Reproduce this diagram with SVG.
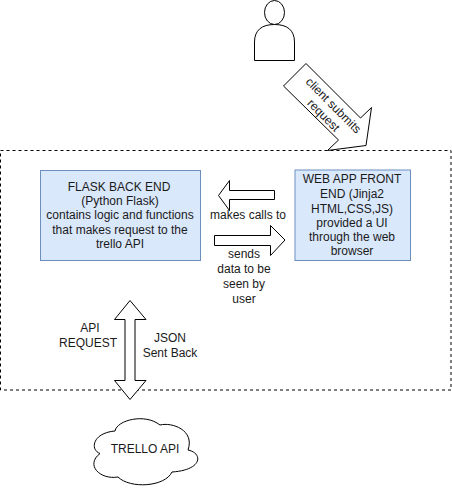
<svg xmlns="http://www.w3.org/2000/svg" width="452" height="491" viewBox="0 0 452 491">
<style>
text{font-family:"Liberation Sans",Arial,sans-serif;font-size:12px;fill:#1a1a1a;text-anchor:middle}
.s{fill:#fff;stroke:#000;stroke-width:1}
.b{fill:#dae8fc;stroke:#6c8ebf;stroke-width:1}
.n{fill:none;stroke:#000;stroke-width:1}
</style>
<rect width="452" height="491" fill="#fff"/>
<g id="boundary"><rect class="n" x="0.5" y="150.5" width="450.5" height="239.5" stroke-dasharray="3 3"/></g>
<g id="connectors">
<path class="s" d="M306 63.500L283.500 86L338.500 140L327.500 150.500L366 145.500L371.500 107.500L360.500 118Z"/>
<text transform="translate(328.500 110.400) rotate(45)" x="0" y="-3">client submits</text>
<text transform="translate(328.500 110.400) rotate(45)" x="0" y="11">request</text>
<path class="s" d="M218.500 195.500L229.500 180.500V190.500H274.500V199.500H229.500V210.500Z"/>
<path class="s" d="M285 240L270.500 225.500V235.500H214.500V245.500H270.500V255.500Z"/>
<path class="s" d="M130 300.500L114.500 319.500H125V380.500H114.500L130 399.500L146 380.500H135V319.500H146Z"/>
<text x="248" y="219">makes calls to</text>
<text x="244" y="258">sends</text><text x="244" y="273">data to be</text><text x="244" y="288">seen by</text><text x="244" y="303">user</text>
<text x="90" y="332">API</text><text x="88" y="347">REQUEST</text>
<text x="170" y="342">JSON</text><text x="170" y="357">Sent Back</text>
</g>
<g id="user"><ellipse class="s" cx="274.500" cy="12.500" rx="10" ry="12"/><path class="s" d="M254.500 60.500V42C254.500 30 262 24.500 274.500 24.500C287 24.500 294.500 30 294.500 42V60.500Z"/></g>
<g id="flask"><rect class="b" x="40.500" y="170.500" width="160" height="90"/>
<text x="119" y="190.500">FLASK BACK END</text><text x="120" y="205">(Python Flask)</text><text x="120" y="219">contains logic and functions</text><text x="120" y="233.500">that makes request to the</text><text x="120" y="248">trello API</text></g>
<g id="webapp"><rect class="b" x="295" y="170" width="115.500" height="90.500"/>
<text x="352" y="183">WEB APP FRONT</text><text x="352" y="198">END (Jinja2</text><text x="352" y="212.500">HTML,CSS,JS)</text><text x="352" y="226.500">provided a UI</text><text x="352" y="241">through the web</text><text x="352" y="255">browser</text></g>
<g id="trello"><path class="s" d="M100 453.500C90 450 92 433 115 431C117 420 145 413 160 425C172 422 195 430 188 450C203 453 203 470 172 472C165 487 130 489 118 477C100 480 85 465 100 453.500Z"/>
<text x="145" y="453">TRELLO API</text></g>
</svg>
